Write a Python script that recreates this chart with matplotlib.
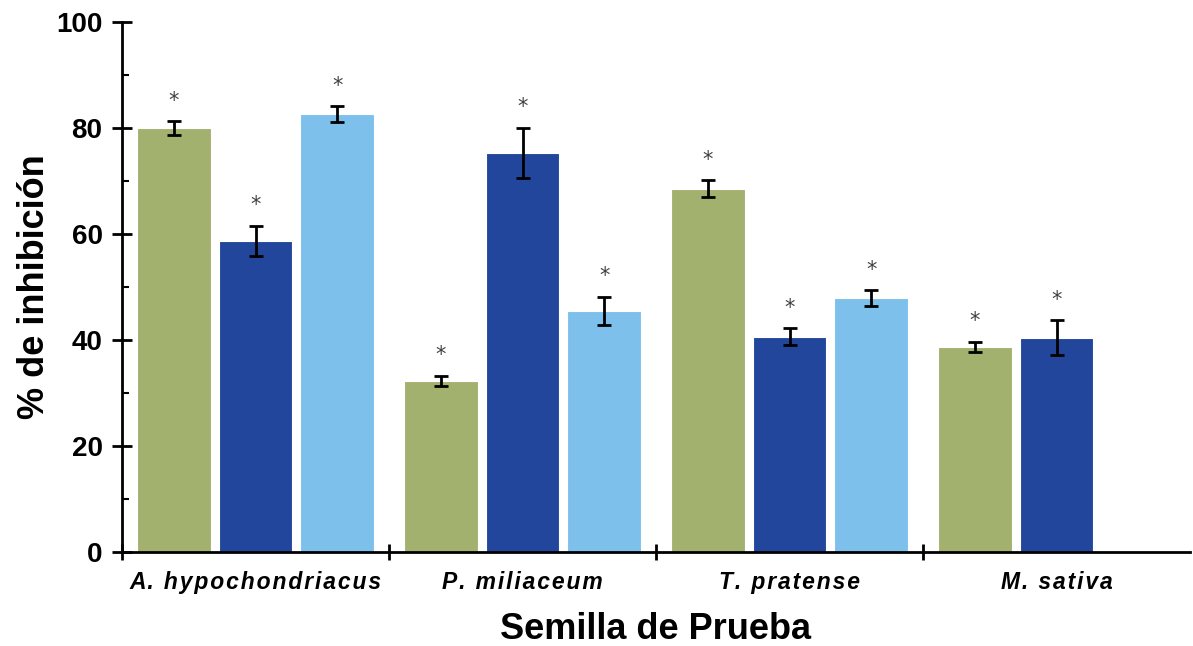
import matplotlib
matplotlib.use("Agg")
import matplotlib.pyplot as plt
from matplotlib import font_manager
from matplotlib.ticker import MultipleLocator
import numpy as np

# Arial-like regular-width Liberation Sans faces
faces = {}
for f in font_manager.fontManager.ttflist:
    if f.name == "Liberation Sans" and f.stretch in ("normal", 400):
        faces[(f.weight, f.style)] = f.fname
bold_path = None
bold_italic_path = None
for (w, s), p in faces.items():
    if "Narrow" in p:
        continue
    if s == "normal" and (w == "bold" or w == 700) and "Bold" in p and "Italic" not in p:
        bold_path = p
    if s == "italic" and (w == "bold" or w == 700) and "BoldItalic" in p:
        bold_italic_path = p

def fp(path, size, **kw):
    if path:
        return font_manager.FontProperties(fname=path, size=size)
    return font_manager.FontProperties(family="Liberation Sans", size=size, **kw)

categories = ["A. hypochondriacus", "P. miliaceum", "T. pratense", "M. sativa"]
series_a = [80.0, 32.3, 68.5, 38.7]
series_b = [58.7, 75.3, 40.6, 40.4]
series_c = [82.6, 45.5, 47.9, None]
err_a = [1.3, 0.9, 1.6, 1.0]
err_b = [2.9, 4.7, 1.6, 3.3]
err_c = [1.5, 2.6, 1.5, None]

colors = ["#A3B16F", "#21469B", "#7DC0EC"]

fig = plt.figure(figsize=(11.93, 6.46), dpi=100)
ax = fig.add_axes([122 / 1193, 1 - 552 / 646, (1190 - 122) / 1193, 530 / 646])

centers = np.arange(len(categories)) + 0.5
width = 0.276
step = 0.306

for k, (vals, errs) in enumerate([(series_a, err_a), (series_b, err_b), (series_c, err_c)]):
    for i, (v, e) in enumerate(zip(vals, errs)):
        if v is None:
            continue
        x = centers[i] + (k - 1) * step
        ax.bar(x, v, width=width, color=colors[k], edgecolor="white", linewidth=0.8, zorder=2)
        ax.errorbar(x, v, yerr=e, fmt="none", ecolor="black", elinewidth=2,
                    capsize=5, capthick=2, zorder=3)
        ax.text(x, v + e + 2.0, "*", ha="center", va="bottom", fontsize=15,
                color="#404040", family="DejaVu Sans", zorder=4)

ax.set_xlim(0, len(categories))
ax.set_ylim(0, 100)

ax.spines["top"].set_visible(False)
ax.spines["right"].set_visible(False)
ax.spines["left"].set_linewidth(2)
ax.spines["bottom"].set_linewidth(2)

ax.yaxis.set_major_locator(MultipleLocator(20))
ax.yaxis.set_minor_locator(MultipleLocator(10))
ax.tick_params(axis="y", which="major", direction="inout", length=14, width=2, pad=7)
ax.tick_params(axis="y", which="minor", direction="in", length=5, width=1.5)
ax.set_yticks(np.arange(0, 101, 20))
ax.set_yticklabels([str(v) for v in range(0, 101, 20)],
                   fontproperties=fp(bold_path, 20, weight="bold"))

ax.set_xticks(np.arange(len(categories)))
ax.set_xticklabels([])
ax.tick_params(axis="x", which="major", direction="inout", length=12, width=2)

hair = "\u200a"
for c, name in zip(centers, categories):
    spaced = hair.join(list(name))
    ax.text(c, -3.6, spaced, ha="center", va="top",
            fontproperties=fp(bold_italic_path, 16.5, weight="bold", style="italic"))

ax.set_ylabel("% de inhibición", fontproperties=fp(bold_path, 26, weight="bold"), labelpad=3)
ax.set_xlabel("Semilla de Prueba", fontproperties=fp(bold_path, 26, weight="bold"), labelpad=34)

fig.savefig("out.png", dpi=100)
